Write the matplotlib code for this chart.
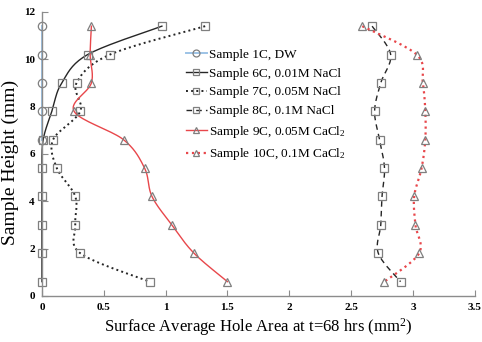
import numpy as np
import matplotlib
matplotlib.use("Agg")
import matplotlib.pyplot as plt

plt.rcParams['font.family'] = ['Liberation Serif', 'DejaVu Serif']
plt.rcParams['mathtext.fontset'] = 'custom'
plt.rcParams['mathtext.rm'] = 'Liberation Serif'
plt.rcParams['mathtext.it'] = 'Liberation Serif:italic'

# sample heights (mm), top to bottom
heights = [11.4, 10.2, 9.0, 7.8, 6.6, 5.4, 4.2, 3.0, 1.8, 0.6]
heights_1c = [11.4, 10.2, 9.0, 7.8, 6.6]

area_1c = [0, 0, 0, 0, 0]
area_6c = [0.97, 0.37, 0.16, 0.08, 0.01, 0, 0, 0, 0, 0]
area_7c = [1.32, 0.55, 0.28, 0.31, 0.09, 0.12, 0.27, 0.27, 0.31, 0.87]
area_8c = [2.67, 2.82, 2.74, 2.69, 2.73, 2.77, 2.75, 2.74, 2.72, 2.90]
area_9c = [0.40, 0.39, 0.40, 0.26, 0.66, 0.83, 0.89, 1.05, 1.23, 1.50]
area_10c = [2.59, 3.03, 3.08, 3.10, 3.10, 3.07, 3.01, 3.02, 3.05, 2.77]

labels = ["Sample 1C, DW", "Sample 6C, 0.01M NaCl", "Sample 7C, 0.05M NaCl",
          "Sample 8C, 0.1M NaCl", "Sample 9C, 0.05M CaCl$_2$", "Sample 10C, 0.1M CaCl$_2$"]


def smooth(x, y, n=20):
    # excel-like smoothed line (bezier through the points)
    x = np.asarray(x, float)
    y = np.asarray(y, float)
    P = np.column_stack([x, y])
    m = len(P)
    out = []
    t = np.linspace(0, 1, n)[:, None]
    for i in range(m - 1):
        p0 = P[max(i - 1, 0)]
        p1 = P[i]
        p2 = P[i + 1]
        p3 = P[min(i + 2, m - 1)]
        c1 = p1 + (p2 - p0) / 6
        c2 = p2 - (p3 - p1) / 6
        seg = ((1 - t) ** 3) * p1 + 3 * ((1 - t) ** 2) * t * c1 + 3 * (1 - t) * t ** 2 * c2 + t ** 3 * p2
        out.append(seg)
    c = np.vstack(out)
    return c[:, 0], c[:, 1]


fig = plt.figure(figsize=(4.82, 3.42), dpi=100)
ax = fig.add_axes([0.087, 0.135, 0.898, 0.83])

gray = '#7f7f7f'
series = [
    (area_1c, heights_1c, '#9dc3e6', '-', 'o', 1.4),
    (area_6c, heights, '#262626', '-', 's', 1.0),
    (area_7c, heights, '#262626', ':', 's', 1.4),
    (area_8c, heights, '#262626', (0, (4, 3)), 's', 1.0),
    (area_9c, heights, '#e8474b', '-', '^', 1.0),
    (area_10c, heights, '#e8474b', ':', '^', 1.6),
]

handles = []
for (xs, ys, col, ls, mk, lw), lab in zip(series, labels):
    sx, sy = smooth(xs, ys)
    ax.plot(sx, sy, color=col, ls=ls, lw=lw, clip_on=False)
    ax.plot(xs, ys, ls='none', marker=mk, ms=6, mfc='none', mec=gray, mew=0.9, clip_on=False)
    h, = ax.plot([], [], color=col, ls=ls, lw=lw, marker=mk, ms=5, mfc='none', mec=gray, mew=0.9)
    handles.append(h)

ax.set_xlim(0, 3.5)
ax.set_ylim(0, 12)
ax.set_xticks([0, 0.5, 1, 1.5, 2, 2.5, 3, 3.5])
ax.set_xticklabels(['0', '0.5', '1', '1.5', '2', '2.5', '3', '3.5'])
ax.set_yticks([0, 2, 4, 6, 8, 10, 12])
for s in ['top', 'right']:
    ax.spines[s].set_visible(False)
for s in ['left', 'bottom']:
    ax.spines[s].set_color('#8c8c8c')
    ax.spines[s].set_linewidth(1.0)
ax.tick_params(direction='in', length=4, color='#8c8c8c', labelsize=8, pad=5)
for t in ax.get_xticklabels() + ax.get_yticklabels():
    t.set_fontweight('bold')

ax.set_xlabel('Surface Average Hole Area at t=68 hrs (mm$^2$)', fontsize=12, labelpad=3)
ax.set_ylabel('Sample Height (mm)', fontsize=14)
ax.yaxis.set_label_coords(-0.052, 0.47)

ax.legend(handles, labels, loc='upper left', bbox_to_anchor=(0.32, 0.89), frameon=False,
          fontsize=9.5, handlelength=1.6, handletextpad=0.2, labelspacing=0.5, borderaxespad=0)

fig.savefig('out.png', dpi=100)
